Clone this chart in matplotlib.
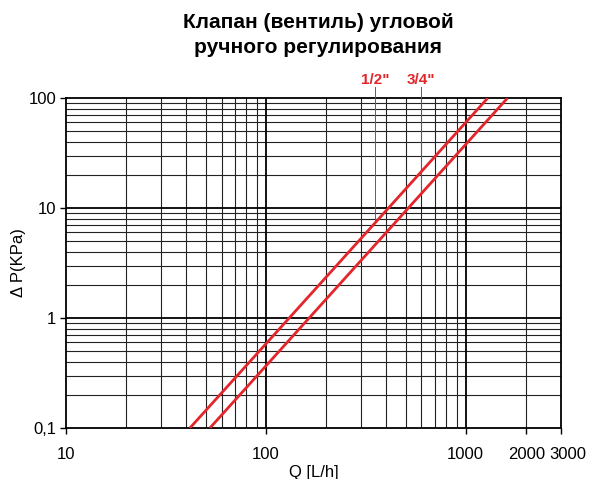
import matplotlib.pyplot as plt
from matplotlib.ticker import FixedLocator, NullFormatter
from matplotlib.transforms import ScaledTranslation

plt.rcParams['font.family'] = ['Liberation Sans', 'DejaVu Sans']

# ---- data ----
title_lines = ["Клапан (вентиль) угловой", "ручного регулирования"]
sizes = ['1/2"', '3/4"']
q_half = [41.7, 1290]      # L/h
q_three = [52.5, 1620]     # L/h
dp_ends = [0.1, 100]       # kPa
leader_q = [351, 600]      # L/h where label leaders drop
leader_dp = [7.3, 13.4]    # kPa at the curve
x_ticks = [10, 100, 1000, 2000, 3000]
y_ticks = [0.1, 1, 10, 100]
y_ticklabels = ["0,1", "1", "10", "100"]

red = "#e3262c"

fig = plt.figure(figsize=(5.98, 4.79), dpi=100)
ax = fig.add_axes([0.1104, 0.1065, 0.8278, 0.6889])
ax.set_xscale("log")
ax.set_yscale("log")
ax.set_xlim(10, 3000)
ax.set_ylim(0.1, 100)

# grid
minor_x = [m * 10 ** e for e in (1, 2) for m in range(2, 10)] + [2000]
minor_y = [m * 10 ** e for e in (-1, 0, 1) for m in range(2, 10)]
for x in minor_x:
    ax.axvline(x, color="#222222", lw=0.8, zorder=1)
for y in minor_y:
    ax.axhline(y, color="#222222", lw=0.8, zorder=1)
for x in (100, 1000):
    ax.axvline(x, color="black", lw=1.3, zorder=1)
for y in (1, 10):
    ax.axhline(y, color="black", lw=1.3, zorder=1)

ax.plot(q_half, dp_ends, color=red, lw=2.0, zorder=3, solid_capstyle="butt")
ax.plot(q_three, dp_ends, color=red, lw=2.0, zorder=3, solid_capstyle="butt")

# leader lines and size labels above the plot
for name, q, dp in zip(sizes, leader_q, leader_dp):
    ax.plot([q, q], [dp, 125], color=red, lw=0.7, clip_on=False, zorder=3)
    ax.text(q, 146, name, color=red, fontsize=11, fontweight="bold",
            ha="center", va="center")

ax.xaxis.set_major_locator(FixedLocator(x_ticks))
ax.xaxis.set_minor_locator(FixedLocator([]))
ax.set_xticklabels([str(t) for t in x_ticks])
ax.yaxis.set_major_locator(FixedLocator(y_ticks))
ax.yaxis.set_minor_locator(FixedLocator([]))
ax.yaxis.set_minor_formatter(NullFormatter())
ax.set_yticklabels(y_ticklabels)
ax.tick_params(axis="both", labelsize=12, length=4, width=1, direction="out")
ax.tick_params(axis="x", pad=10)
ax.tick_params(axis="y", pad=3)

# the last x label sits a little to the right in the reference
lbls = ax.get_xticklabels()
lbls[-1].set_transform(lbls[-1].get_transform() + ScaledTranslation(0.07, 0, fig.dpi_scale_trans))
lbls[-2].set_transform(lbls[-2].get_transform() + ScaledTranslation(0.01, 0, fig.dpi_scale_trans))

for s in ax.spines.values():
    s.set_linewidth(1.3)

ax.set_xlabel("Q [L/h]", fontsize=12, labelpad=2)
ax.set_ylabel("Δ P(KPa)", fontsize=12, labelpad=2)

fig.text(0.532, 0.953, title_lines[0], ha="center", va="center",
         fontsize=15, fontweight="bold")
fig.text(0.532, 0.900, title_lines[1], ha="center", va="center",
         fontsize=15, fontweight="bold")

fig.savefig("out.png", dpi=100)
